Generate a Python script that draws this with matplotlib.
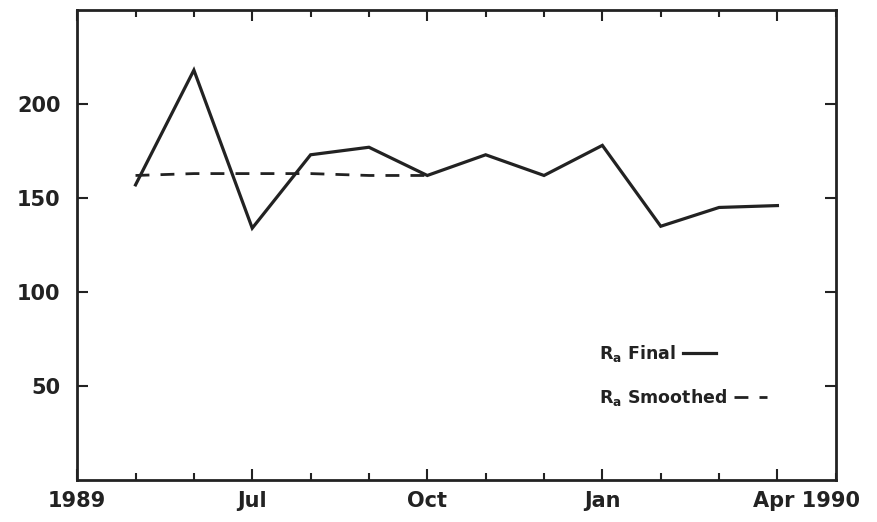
import numpy as np
import matplotlib.pyplot as plt
from matplotlib.ticker import FixedLocator, MultipleLocator
import matplotlib.transforms as mtransforms

# Months counted from Apr 1989 (0) to May 1990 (13)
months_final = [1, 2, 3, 4, 5, 6, 7, 8, 9, 10, 11, 12]
ra_final = [157, 218, 134, 173, 177, 162, 173, 162, 178, 135, 145, 146]

months_smoothed = [1, 2, 3, 4, 5, 6]
ra_smoothed = [162, 163, 163, 163, 162, 162]

tick_pos = [0, 3, 6, 9, 12]
tick_labels = ['1989', 'Jul', 'Oct', 'Jan', 'Apr 1990']
y_ticks = [50, 100, 150, 200]

ink = '#222222'
plt.rcParams['font.family'] = 'DejaVu Sans'
plt.rcParams['font.weight'] = 'bold'

fig = plt.figure(figsize=(8.77, 5.22), dpi=100)
ax = fig.add_axes([0.088, 0.080, 0.865, 0.901])

line_final, = ax.plot(months_final, ra_final, color=ink, lw=2.3,
                      solid_joinstyle='miter', label='R$_\\mathregular{a}$ Final')
line_smooth, = ax.plot(months_smoothed, ra_smoothed, color=ink, lw=2.0,
                       dashes=(5, 4), label='R$_\\mathregular{a}$ Smoothed')

ax.set_xlim(0, 13)
ax.set_ylim(0, 250)

ax.xaxis.set_major_locator(FixedLocator(tick_pos))
ax.xaxis.set_minor_locator(MultipleLocator(1))
ax.set_xticklabels(tick_labels)
ax.yaxis.set_major_locator(FixedLocator(y_ticks))

ax.tick_params(axis='both', which='major', direction='in', length=8, width=1.5,
               color=ink, labelsize=15, labelcolor=ink, top=True, right=True)
ax.tick_params(axis='x', which='minor', direction='in', length=5, width=1.5,
               color=ink, top=True)
ax.tick_params(axis='x', which='major', pad=8)
ax.tick_params(axis='y', which='major', pad=12)

# shift the last label so that "Apr" sits on its tick
labels = ax.get_xticklabels()
labels[-1].set_horizontalalignment('left')
labels[-1].set_transform(labels[-1].get_transform() +
                         mtransforms.ScaledTranslation(-24 / 100, 0, fig.dpi_scale_trans))

for s in ax.spines.values():
    s.set_linewidth(2)
    s.set_color(ink)

# one legend per entry: text first, sample line after it
leg1 = ax.legend(handles=[line_final], loc='center left', bbox_to_anchor=(0.688, 0.27),
                 frameon=False, markerfirst=False, fontsize=12.5, handlelength=1.9,
                 handletextpad=0.4, borderaxespad=0, borderpad=0)
ax.add_artist(leg1)
leg2 = ax.legend(handles=[line_smooth], loc='center left', bbox_to_anchor=(0.688, 0.176),
                 frameon=False, markerfirst=False, fontsize=12.5, handlelength=1.9,
                 handletextpad=0.4, borderaxespad=0, borderpad=0)
for lg in (leg1, leg2):
    for t in lg.get_texts():
        t.set_color(ink)

fig.savefig('out.png', dpi=100)
